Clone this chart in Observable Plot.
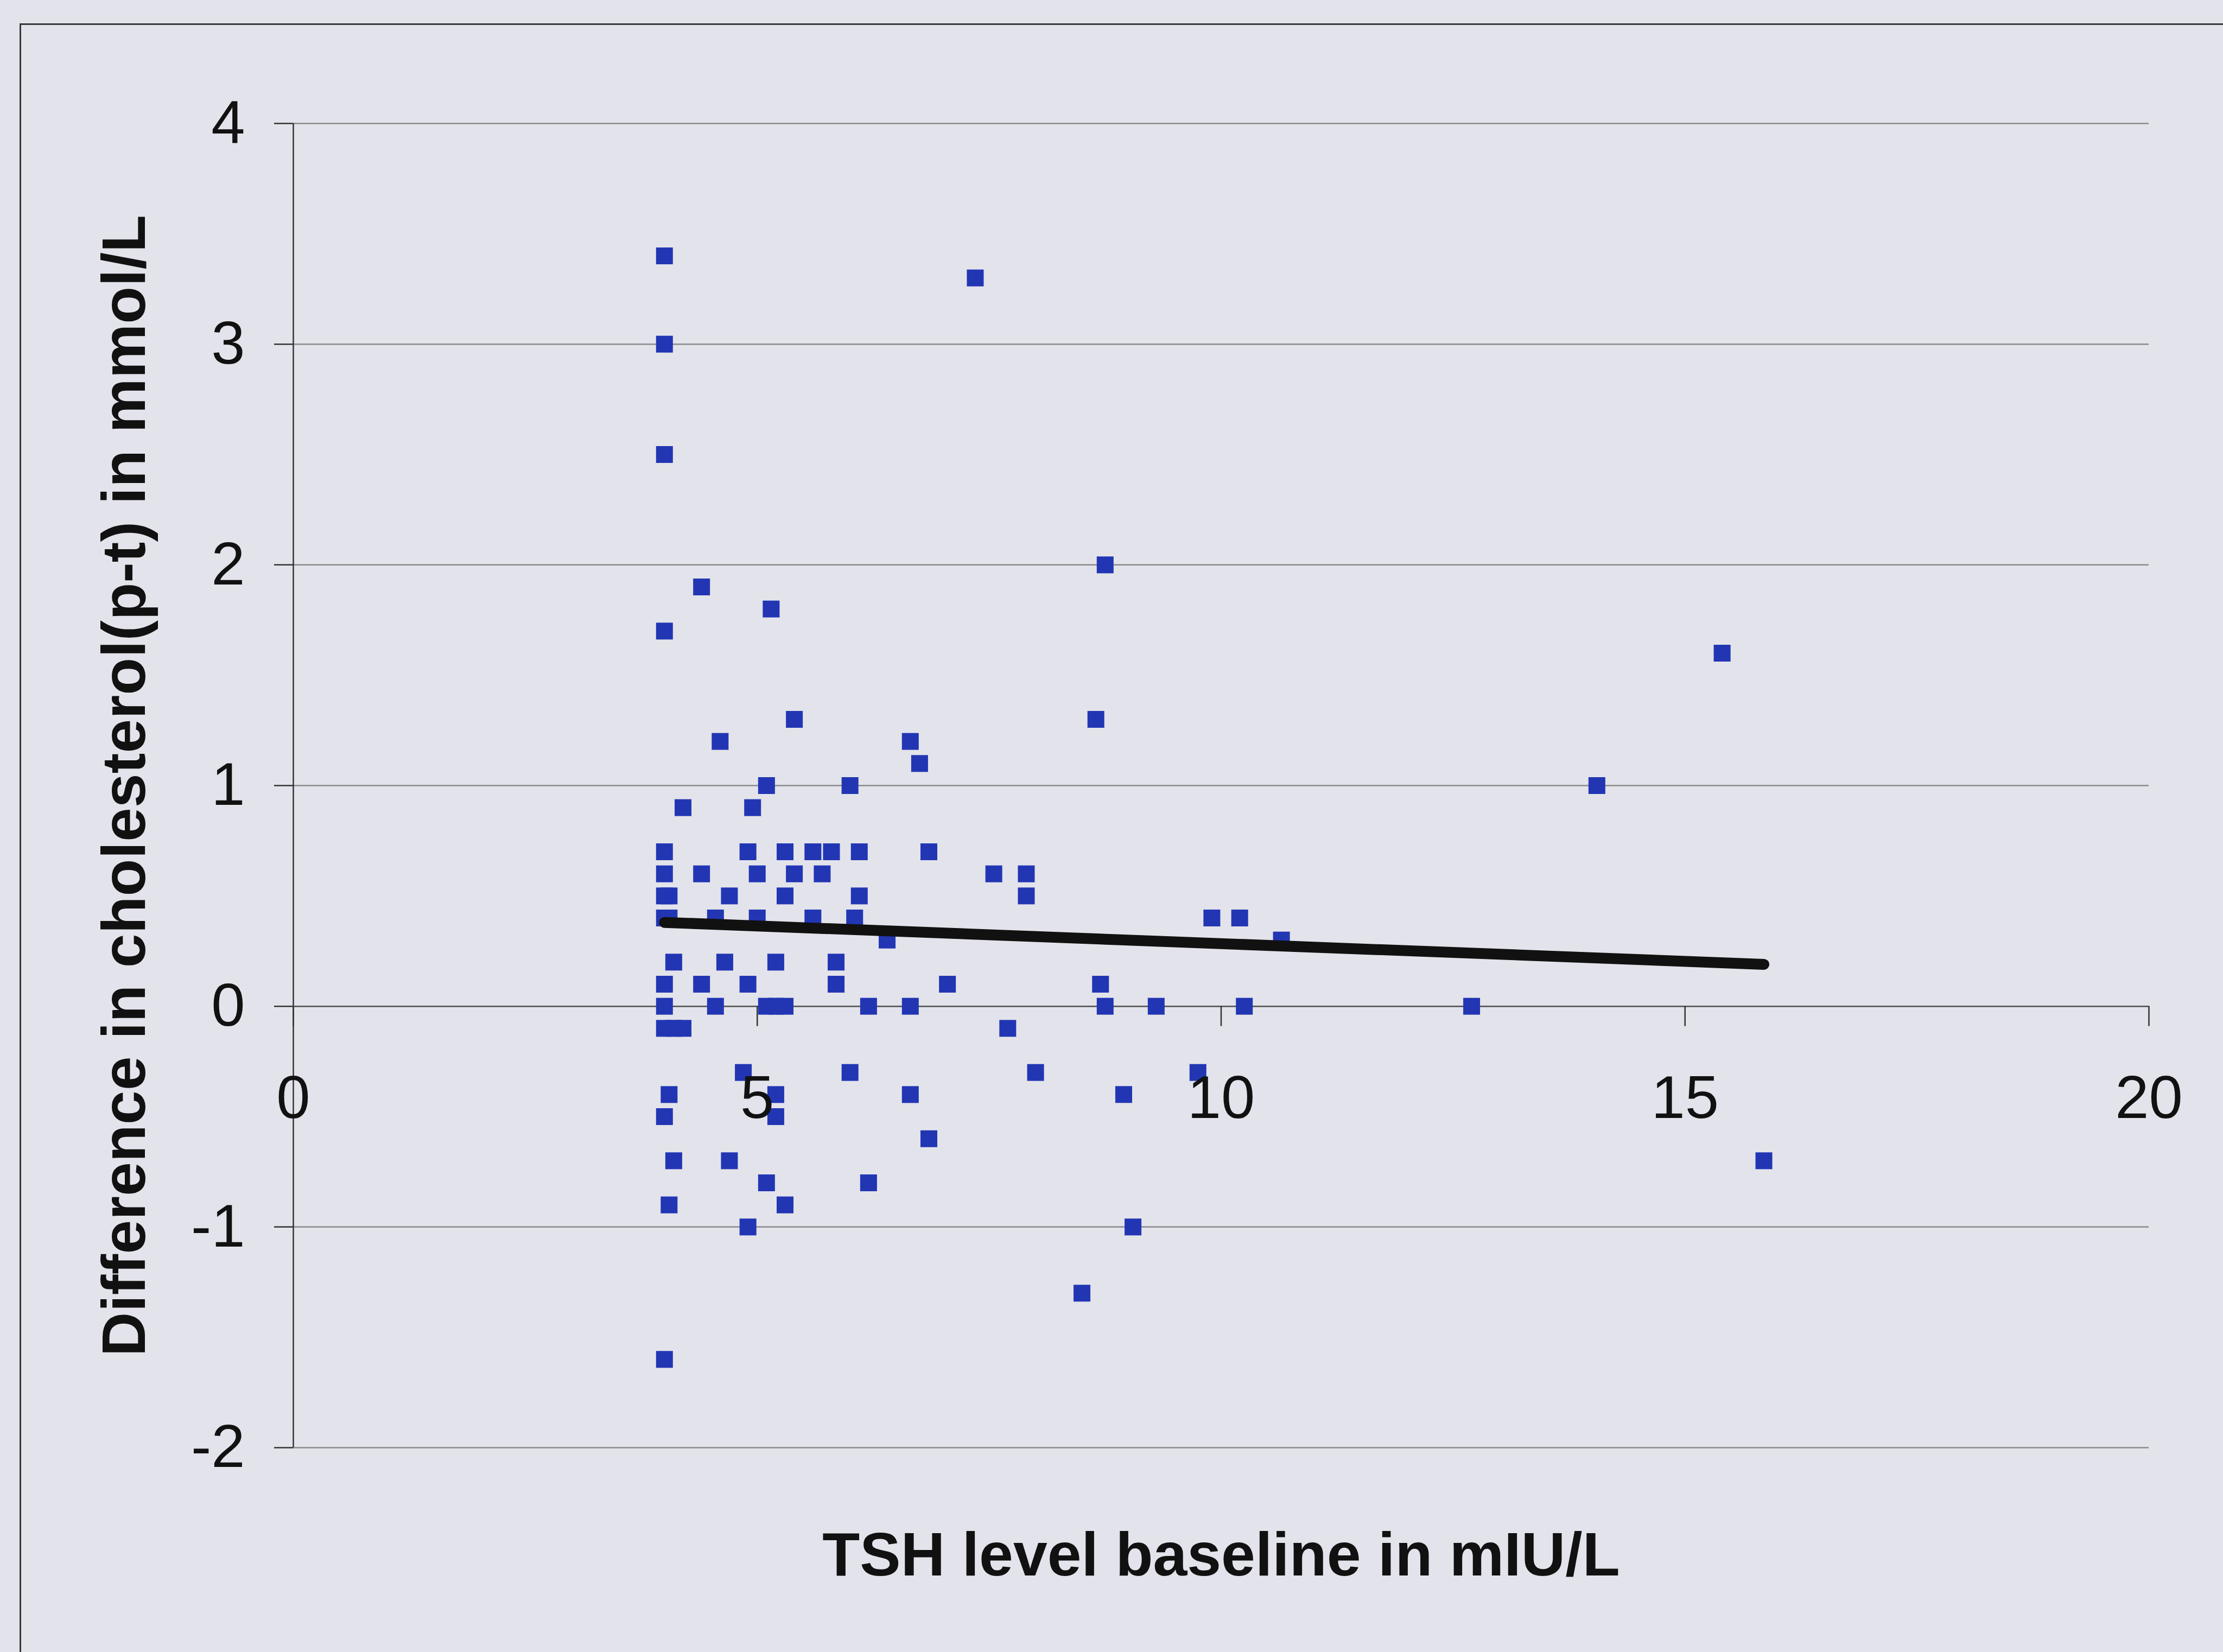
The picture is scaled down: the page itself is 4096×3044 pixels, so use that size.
<!DOCTYPE html>
<html>
<head>
<meta charset="utf-8">
<script src="https://cdn.jsdelivr.net/npm/d3@7"></script>
<script src="https://cdn.jsdelivr.net/npm/@observablehq/plot@0.6"></script>
<style>
  html, body { margin: 0; padding: 0; background: #e3e3eb; }
  #wrap { position: relative; width: 4096px; height: 3044px; overflow: hidden; background: #e3e3eb; }
  #border { position: absolute; left: 36px; top: 43px; width: 4100px; height: 3100px;
            border-left: 3px solid #3a3a3a; border-top: 3px solid #3a3a3a; box-sizing: border-box; }
  #chart { position: absolute; left: 0; top: 0; }
</style>
</head>
<body>
<div id="wrap"><div id="border"></div><div id="chart"></div></div>
<script>
// ---- data ----
const xTicks = [0, 5, 10, 15, 20];
const yTicks = [-2, -1, 0, 1, 2, 3, 4];
const xTitle = "TSH level baseline in mIU/L";
const yTitle = "Difference in cholesterol(p-t) in mmol/L";

const tsh = [
  4.0, 4.0, 4.0, 4.0, 4.0, 4.0, 4.0, 4.05, 4.0, 4.05, 4.0, 4.0, 4.0, 4.1, 4.2, 4.05, 4.0, 4.1, 4.05, 4.0, 4.1, 4.2,
  4.4, 4.4, 4.4, 4.55, 4.55, 4.6, 4.65, 4.7, 4.7,
  4.85, 4.9, 4.95, 4.9, 4.9,
  5.0, 5.0, 5.1, 5.1, 5.1,
  5.15, 5.2, 5.2, 5.2, 5.2,
  5.3, 5.3, 5.3, 5.3,
  5.4, 5.4,
  5.6, 5.6, 5.7, 5.8,
  5.85, 5.85,
  6.0, 6.0, 6.05, 6.1, 6.1, 6.2, 6.2,
  6.4,
  6.65, 6.75, 6.65, 6.65, 6.85, 6.85,
  7.05, 7.35,
  7.55, 7.7, 7.9, 7.9, 8.0,
  8.5, 8.65, 8.7, 8.75, 8.75, 8.95, 9.05,
  9.3, 9.75, 9.9, 10.2, 10.25, 10.65,
  12.7, 14.05, 15.4, 15.85
];
const cholDiff = [
  3.4, 3.0, 2.5, 1.7, 0.7, 0.6, 0.5, 0.5, 0.4, 0.4, 0.1, 0, -0.1, -0.1, -0.1, -0.4, -0.5, -0.7, -0.9, -1.6, 0.2, 0.9,
  1.9, 0.6, 0.1, 0.4, 0, 1.2, 0.2, 0.5, -0.7,
  -0.3, 0.7, 0.9, 0.1, -1.0,
  0.6, 0.4, 1.0, 0, -0.8,
  1.8, 0.2, 0, -0.4, -0.5,
  0.7, 0.5, 0, -0.9,
  1.3, 0.6,
  0.7, 0.4, 0.6, 0.7,
  0.2, 0.1,
  1.0, -0.3, 0.4, 0.7, 0.5, 0, -0.8,
  0.3,
  1.2, 1.1, 0, -0.4, 0.7, -0.6,
  0.1, 3.3,
  0.6, -0.1, 0.6, 0.5, -0.3,
  -1.3, 1.3, 0.1, 2.0, 0, -0.4, -1.0,
  0, -0.3, 0.4, 0.4, 0, 0.3,
  0, 1.0, 1.6, -0.7
];
// fitted trend line end points as drawn in the reference
const trendTsh = [4.0, 15.85];
const trendDiff = [0.38, 0.19];

// ---- build tables ----
const points = tsh.map((x, i) => ({x, y: cholDiff[i]}));
const trend = trendTsh.map((x, i) => ({x, y: trendDiff[i]}));

const font = "'Liberation Sans', Arial, Helvetica, sans-serif";
const axisColor = "#333333";

const chart = Plot.plot({
  width: 4096,
  height: 3044,
  marginLeft: 540,
  marginRight: 137,
  marginTop: 227,
  marginBottom: 377,
  x: {domain: [0, 20], axis: null},
  y: {domain: [-2, 4], axis: null},
  style: {background: "transparent", fontFamily: font, color: "#111"},
  marks: [
    // horizontal gridlines
    Plot.ruleY(yTicks, {x1: 0, x2: 20, stroke: "#8a8a8a", strokeWidth: 2.5}),
    // y axis line and tick marks
    Plot.ruleX([0], {y1: -2, y2: 4, stroke: axisColor, strokeWidth: 2.5}),
    Plot.ruleY(yTicks, {x1: 0, x2: 0, insetLeft: -35, stroke: axisColor, strokeWidth: 2.5}),
    // x axis line (crosses at y = 0) and its tick marks
    Plot.ruleY([0], {x1: 0, x2: 20, stroke: "#555555", strokeWidth: 2.5}),
    Plot.ruleX(xTicks, {y1: 0, y2: 0, insetBottom: -37, stroke: axisColor, strokeWidth: 2.5}),
    // data points
    Plot.dot(points, {x: "x", y: "y", symbol: "square", r: 17.5, fill: "#2236b4", stroke: null}),
    // trend line
    Plot.line(trend, {x: "x", y: "y", stroke: "#111111", strokeWidth: 20, strokeLinecap: "round"}),
    // y tick labels
    Plot.text(yTicks, {y: d => d, frameAnchor: "left", textAnchor: "end", dx: -89,
      text: d => String(d), fontSize: 112, fill: "#111"}),
    // x tick labels, below the axis at y = 0
    Plot.text(xTicks, {x: d => d, y: () => 0, dy: 170, text: d => String(d), fontSize: 112, fill: "#111"}),
    // axis titles
    Plot.text([xTitle], {frameAnchor: "bottom", lineAnchor: "middle", dy: 199, text: d => d,
      fontSize: 113, fontWeight: "bold", fill: "#111"}),
    Plot.text([yTitle], {frameAnchor: "left", textAnchor: "middle", lineAnchor: "middle", dx: -310, rotate: -90,
      text: d => d, fontSize: 113, fontWeight: "bold", fill: "#111"})
  ]
});
document.getElementById("chart").appendChild(chart);
</script>
</body>
</html>
